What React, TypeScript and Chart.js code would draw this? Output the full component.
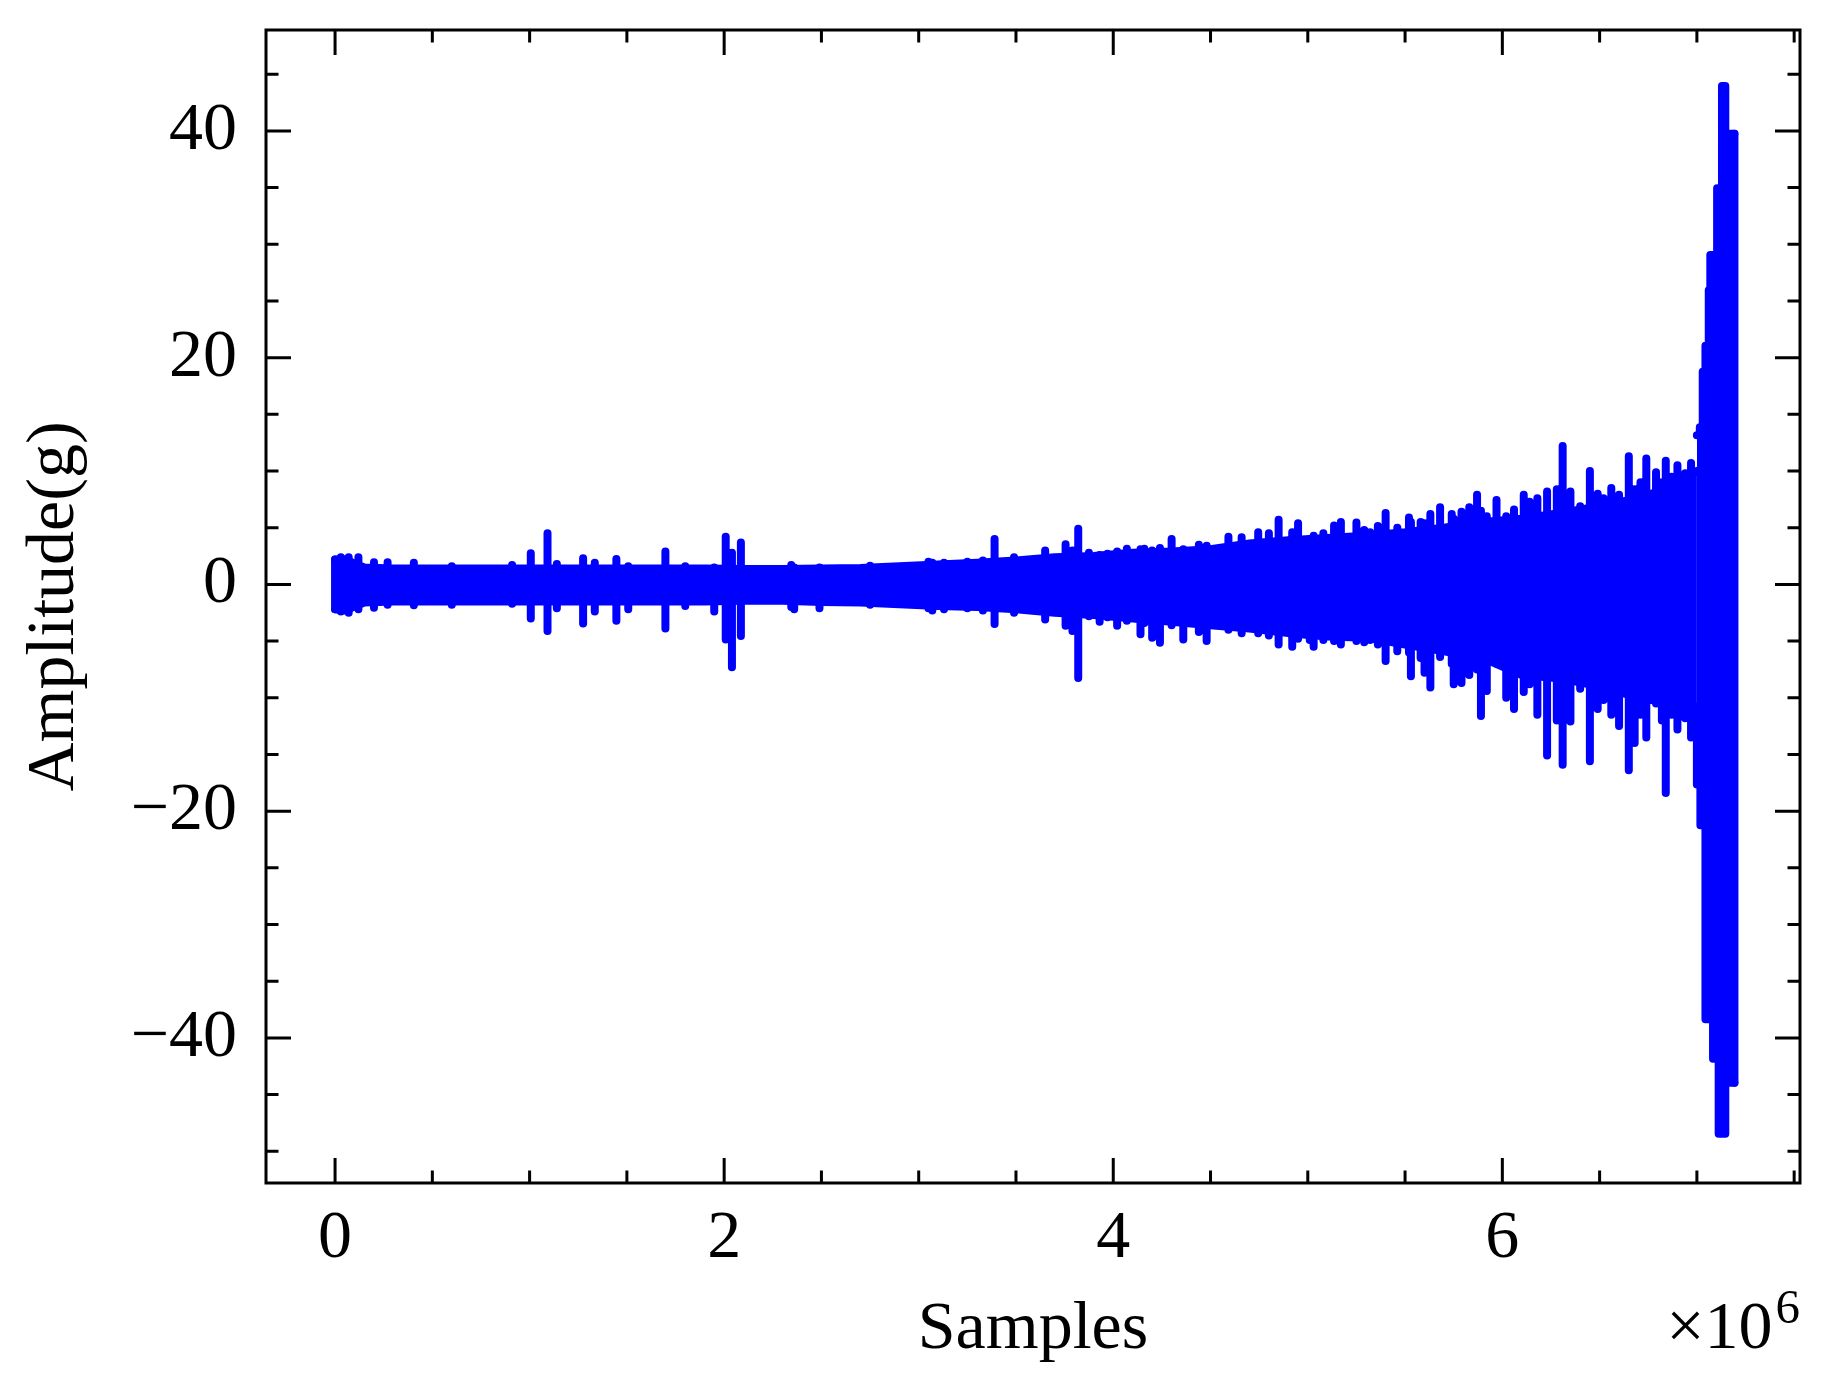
import React, { useEffect, useRef } from 'react';
import Chart from 'chart.js/auto';

// samples are in units of 1e6 (the axis shows the x10^6 offset)
const BODY_X = [0, 0.05, 0.15, 0.3, 0.5, 0.7, 0.9, 1.1, 1.3, 1.5, 1.7, 1.9, 2.1, 2.3, 2.5, 2.7, 2.9, 3.1, 3.3, 3.5, 3.7, 3.9, 4.1, 4.3, 4.5, 4.7, 4.9, 5.1, 5.3, 5.5, 5.7, 5.9, 6.1, 6.3, 6.5, 6.7, 6.9, 7.0];
const BODY_HI = [2.2, 2.2, 1.5, 1.4, 1.4, 1.4, 1.4, 1.4, 1.4, 1.4, 1.4, 1.4, 1.35, 1.35, 1.4, 1.45, 1.6, 1.75, 1.9, 2.1, 2.4, 2.5, 2.8, 2.9, 3.1, 3.6, 3.9, 4.1, 4.3, 4.6, 5.0, 5.5, 5.8, 6.3, 6.9, 7.6, 8.8, 10.0];
const BODY_LO = [-2.2, -2.3, -1.6, -1.5, -1.5, -1.5, -1.5, -1.5, -1.5, -1.5, -1.5, -1.5, -1.45, -1.45, -1.55, -1.6, -1.75, -1.9, -2.0, -2.2, -2.5, -2.7, -3.0, -3.3, -3.6, -3.9, -4.3, -4.6, -4.7, -5.3, -5.9, -6.5, -8.0, -8.3, -9.0, -10.0, -10.6, -10.8];

// last burst before the end of the record
const TAIL_X = [7.0, 7.015, 7.018, 7.03, 7.044, 7.061, 7.069, 7.083, 7.104, 7.112, 7.129, 7.146, 7.181, 7.193];
const TAIL_HI = [13.15, 13.15, 13.85, 13.85, 18.75, 21.05, 25.95, 29.05, 29.05, 34.95, 34.95, 43.95, 39.75, 39.75];
const TAIL_LO = [-11.05, -17.65, -17.65, -21.25, -21.25, -38.35, -38.35, -38.35, -41.85, -41.85, -48.45, -48.45, -43.95, -43.95];

// individual peaks sticking out of the envelope
const SPIKE_X = [
  0, 0.03, 0.07, 0.12, 0.2, 0.27, 0.405, 0.6, 0.91, 1.006, 1.092, 1.14, 1.275, 1.335, 1.446, 1.507, 1.698, 1.8, 1.949,
  2.008, 2.04, 2.086, 2.345, 2.36, 2.49, 2.75, 3.05, 3.07, 3.13, 3.25, 3.33, 3.39, 3.49, 3.59, 3.65, 3.755, 3.79, 3.82,
  3.875, 3.93, 3.97, 4.02, 4.07, 4.14, 4.16, 4.2, 4.24, 4.3, 4.36, 4.44, 4.48, 4.592, 4.66, 4.745, 4.8, 4.85, 4.92, 4.95,
  5.01, 5.03, 5.08, 5.135, 5.17, 5.25, 5.29, 5.32, 5.36, 5.4, 5.46, 5.52, 5.53, 5.58, 5.6, 5.63, 5.68, 5.74, 5.75, 5.79,
  5.83, 5.87, 5.89, 5.92, 5.97, 6.02, 6.06, 6.11, 6.14, 6.18, 6.23, 6.28, 6.31, 6.35, 6.4, 6.45, 6.49, 6.52, 6.56, 6.6,
  6.65, 6.68, 6.71, 6.74, 6.79, 6.82, 6.84, 6.87, 6.9, 6.94, 6.97, 7.193,
];
const SPIKE_HI = [
  2.2, 2.4, 2.4, 2.4, 1.95, 1.95, 1.9, 1.6, 1.7, 2.75, 4.5, 1.8, 2.3, 1.9, 2.25, 1.6, 2.9, 1.6, 1.5,
  4.2, 2.8, 3.7, 1.7, 1.5, 1.5, 1.65, 2.0, 1.9, 1.9, 2.0, 2.1, 4.0, 2.4, 2.1, 3.0, 3.55, 3.0, 4.9,
  2.8, 2.6, 2.7, 2.9, 3.15, 3.1, 3.15, 3.0, 3.2, 4.0, 3.1, 3.5, 3.4, 4.2, 4.15, 4.6, 4.5, 5.7, 4.6, 5.4,
  4.0, 4.3, 4.5, 5.2, 5.5, 5.45, 4.8, 4.6, 5.15, 6.3, 5.0, 5.9, 5.5, 5.5, 5.4, 6.2, 6.8, 6.2, 5.8, 6.4,
  6.8, 7.9, 6.5, 6.0, 7.45, 6.0, 6.6, 7.9, 7.3, 7.6, 8.2, 8.4, 12.2, 8.2, 6.9, 10.0, 8.0, 7.6, 8.5, 7.9,
  11.3, 8.4, 9.0, 11.1, 9.9, 9.0, 10.9, 9.5, 10.5, 9.8, 10.7, 39.75,
];
const SPIKE_LO = [
  -2.2, -2.4, -2.5, -2.2, -2.05, -1.8, -1.85, -1.8, -1.7, -3.0, -4.1, -2.1, -3.45, -2.4, -3.2, -2.2, -3.9, -1.9, -2.4,
  -4.85, -7.3, -4.55, -2.0, -2.2, -2.1, -1.8, -2.1, -2.3, -2.2, -2.1, -2.3, -3.5, -2.5, -2.05, -3.1, -3.65, -4.1, -8.25,
  -2.8, -3.3, -2.9, -3.65, -3.2, -4.4, -3.4, -4.7, -5.15, -3.6, -4.85, -4.2, -5.0, -4.0, -4.3, -4.3, -4.5, -5.3, -5.5, -4.8,
  -4.9, -5.5, -4.9, -5.0, -5.3, -5.0, -5.1, -4.9, -5.3, -6.75, -5.9, -6.0, -8.1, -6.5, -7.8, -9.1, -6.4, -7.0, -8.8, -8.7,
  -8.0, -7.5, -11.6, -9.4, -7.0, -10.0, -11.0, -9.5, -8.8, -11.5, -15.1, -12.0, -15.9, -12.1, -9.2, -15.6, -11.0, -10.2, -11.5, -12.5,
  -16.4, -14.0, -11.5, -13.5, -10.5, -12.0, -18.4, -11.5, -12.8, -11.8, -13.5, -43.95,
];

const X_TICKS = [0, 2, 4, 6];
const Y_TICKS = [-40, -20, 0, 20, 40];
const X_MINOR = 0.5;
const Y_MINOR = 5;

const BLUE = '#0000ff';
const FONT = '"Liberation Serif", "Times New Roman", serif';

const frameTicks = {
  id: 'frameTicks',
  afterDatasetsDraw(chart: any) {
    const { ctx, chartArea: a, scales } = chart;
    const xs = scales.x;
    const ys = scales.y;
    ctx.save();
    ctx.strokeStyle = '#000';
    ctx.lineWidth = 3;
    ctx.beginPath();
    const minorLen = 12.5;
    const majorLen = 25;
    for (let v = Math.ceil(xs.min / X_MINOR) * X_MINOR; v <= xs.max; v += X_MINOR) {
      const px = xs.getPixelForValue(v);
      const len = X_TICKS.some((t) => Math.abs(t - v) < 1e-9) ? majorLen : minorLen;
      ctx.moveTo(px, a.bottom);
      ctx.lineTo(px, a.bottom - len);
      ctx.moveTo(px, a.top);
      ctx.lineTo(px, a.top + len);
    }
    for (let v = Math.ceil(ys.min / Y_MINOR) * Y_MINOR; v <= ys.max; v += Y_MINOR) {
      const py = ys.getPixelForValue(v);
      const len = Y_TICKS.some((t) => Math.abs(t - v) < 1e-9) ? majorLen : minorLen;
      ctx.moveTo(a.left, py);
      ctx.lineTo(a.left + len, py);
      ctx.moveTo(a.right, py);
      ctx.lineTo(a.right - len, py);
    }
    ctx.stroke();
    ctx.strokeRect(a.left, a.top, a.right - a.left, a.bottom - a.top);

    // offset text of the x axis
    ctx.fillStyle = '#000';
    ctx.textAlign = 'right';
    ctx.textBaseline = 'alphabetic';
    ctx.font = `49px ${FONT}`;
    const supW = ctx.measureText('6').width;
    ctx.fillText('6', a.right, a.bottom + 140);
    ctx.font = `68px ${FONT}`;
    ctx.fillText('\u00d710', a.right - supW - 3, a.bottom + 165);
    ctx.restore();
  },
};

export default function App() {
  const canvasRef = useRef<HTMLCanvasElement>(null);
  const chartRef = useRef<Chart | null>(null);

  useEffect(() => {
    if (!canvasRef.current) return;
    const ctx = canvasRef.current.getContext('2d');
    if (!ctx) return;
    if (chartRef.current) chartRef.current.destroy();

    const line = {
      borderColor: BLUE,
      borderWidth: 8,
      pointRadius: 0,
      borderCapStyle: 'round' as const,
      borderJoinStyle: 'round' as const,
      tension: 0,
    };

    const spikes: { x: number; y: number | null }[] = [];
    SPIKE_X.forEach((x, i) => {
      spikes.push({ x, y: SPIKE_HI[i] }, { x, y: SPIKE_LO[i] }, { x, y: null });
    });

    const tickFont = { family: FONT, size: 68 };

    chartRef.current = new Chart(ctx, {
      type: 'line',
      data: {
        datasets: [
          { ...line, data: BODY_X.map((x, i) => ({ x, y: BODY_HI[i] })), fill: false },
          { ...line, data: BODY_X.map((x, i) => ({ x, y: BODY_LO[i] })), fill: '-1', backgroundColor: BLUE },
          { ...line, data: TAIL_X.map((x, i) => ({ x, y: TAIL_HI[i] })), stepped: 'after', fill: false },
          { ...line, data: TAIL_X.map((x, i) => ({ x, y: TAIL_LO[i] })), stepped: 'after', fill: '-1', backgroundColor: BLUE },
          { ...line, data: spikes, spanGaps: false, fill: false },
        ],
      },
      options: {
        animation: false,
        responsive: true,
        maintainAspectRatio: false,
        devicePixelRatio: 1,
        events: [],
        layout: { padding: { top: 30, right: 30, left: 0, bottom: 0 } },
        plugins: {
          legend: { display: false },
          tooltip: { enabled: false },
        },
        scales: {
          x: {
            type: 'linear',
            min: -0.355,
            max: 7.53,
            grid: { display: false, drawTicks: false },
            border: { display: false },
            afterFit: (s: any) => {
              s.height = 216;
              s.paddingLeft = 0;
              s.paddingRight = 0;
            },
            afterBuildTicks: (s: any) => {
              s.ticks = X_TICKS.map((value) => ({ value }));
            },
            ticks: {
              font: tickFont,
              color: '#000',
              padding: 15,
              maxRotation: 0,
              callback: (v: any) => String(v),
            },
            title: {
              display: true,
              text: 'Samples',
              font: tickFont,
              color: '#000',
              padding: { top: 0, bottom: 28 },
            },
          },
          y: {
            type: 'linear',
            min: -52.8,
            max: 48.9,
            grid: { display: false, drawTicks: false },
            border: { display: false },
            afterFit: (s: any) => {
              s.width = 266;
              s.paddingTop = 0;
              s.paddingBottom = 0;
            },
            afterBuildTicks: (s: any) => {
              s.ticks = Y_TICKS.map((value) => ({ value }));
            },
            ticks: {
              font: tickFont,
              color: '#000',
              padding: 29,
              callback: (v: any) => (v < 0 ? '\u2212' + Math.abs(v) : String(v)),
            },
            title: {
              display: true,
              text: 'Amplitude(g)',
              font: tickFont,
              color: '#000',
              padding: { top: 14, bottom: 0 },
            },
          },
        },
      },
      plugins: [frameTicks],
    });

    return () => {
      if (chartRef.current) {
        chartRef.current.destroy();
        chartRef.current = null;
      }
    };
  }, []);

  return (
    <div style={{ position: 'fixed', left: 0, top: 0, width: 1830, height: 1399, background: '#fff' }}>
      <canvas ref={canvasRef}></canvas>
    </div>
  );
}
